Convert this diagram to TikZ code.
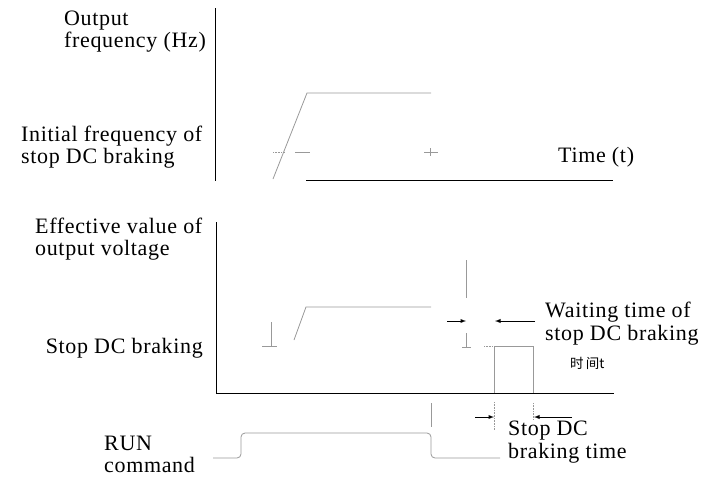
\documentclass[tikz,border=0pt]{standalone}
\usepackage{fontspec}
\setmainfont{Liberation Serif}[LetterSpace=3]
\newfontfamily\cjk{Noto Sans CJK SC}
\begin{document}
\begin{tikzpicture}[x=1pt,y=-1pt,
    lbl/.style={inner sep=0pt,font=\fontsize{22}{21.5}\selectfont,align=left},
    lblw/.style={lbl,font=\fontsize{22}{23}\selectfont},
    axis/.style={black,line width=0.9pt},
    sig/.style={black!40,line width=0.8pt},
    tickln/.style={black!40,line width=0.6pt}]
  \useasboundingbox (0,0) rectangle (707,477);

  % Axes
  \draw[axis] (215,8) -- (215,181);
  \draw[axis] (306,180) -- (613,180);
  \draw[axis] (216,222) -- (216,393) -- (614,393);

  % Frequency
  \draw[sig] (273,179) -- (307,93) -- (431,93);
  \draw[tickln,densely dotted] (273,152) -- (285,152);
  \draw[tickln] (295,152) -- (310,152);
  \draw[tickln] (424,152) -- (438,152);
  \draw[tickln] (430,148) -- (430,156);

  % Voltage
  \draw[sig] (294,340) -- (306,307) -- (431,307);
  \draw[tickln] (271,322) -- (271,346);
  \draw[tickln] (262,346) -- (277,346);
  \draw[tickln] (466,260) -- (466,298);
  \draw[tickln] (466,333) -- (466,347);
  \draw[tickln] (462,347) -- (471,347);
  \draw[tickln,densely dotted] (484,346) -- (493,346);
  \draw[sig] (494,393) -- (494,346) -- (533,346) -- (533,393);

  % RUN command
  \draw[tickln] (431,403) -- (431,427);
  \draw[sig,rounded corners=4pt] (213,458) -- (241,458) -- (241,433) -- (431,433)
    -- (431,458) -- (500,458);
  \draw[tickln,densely dotted] (494,402) -- (494,430);
  \draw[tickln,densely dotted] (533,403) -- (533,420);

  % Labels (base = last line)
  \node[lbl,anchor=base west] (outf) at (64,47) {Output\\frequency (Hz)};
  \node[lbl,anchor=base west] (initf) at (21,163) {Initial frequency of\\stop DC braking};
  \node[lbl,anchor=base west] (time) at (558,162) {Time (t)};
  \node[lbl,anchor=base west] (effv) at (35,255) {Effective value of\\output voltage};
  \node[lbl,anchor=base east] (dcb) at (203,353) {Stop DC braking};
  \node[lblw,anchor=base west] (wait) at (545,340) {Waiting time of\\stop DC braking};
  \node[inner sep=0pt,anchor=base west,font=\cjk\fontsize{13.5}{14}\selectfont] (cjkt) at (570,368) {时\,间t};
  \node[lbl,anchor=base west] (run) at (104,472) {RUN\\command};
  \node[lblw,anchor=base west] (brt) at (508,458) {Stop DC\\braking time};

  % Arrows
  \coordinate (w1) at (447,321);
  \coordinate (w2) at (466,321);
  \coordinate (w3) at (535,321);
  \coordinate (w4) at (495,321);
  \coordinate (b1) at (475,417);
  \coordinate (b2) at (494,417);
  \coordinate (b3) at (572,417);
  \coordinate (b4) at (534,417);
  \draw[-latex,line width=0.9pt] (w1) -- (w2);
  \draw[-latex,line width=0.9pt] (w3) -- (w4);
  \draw[-latex,line width=0.9pt] (b1) -- (b2);
  \draw[-latex,line width=0.9pt] (b3) -- (b4);
\end{tikzpicture}
\end{document}
